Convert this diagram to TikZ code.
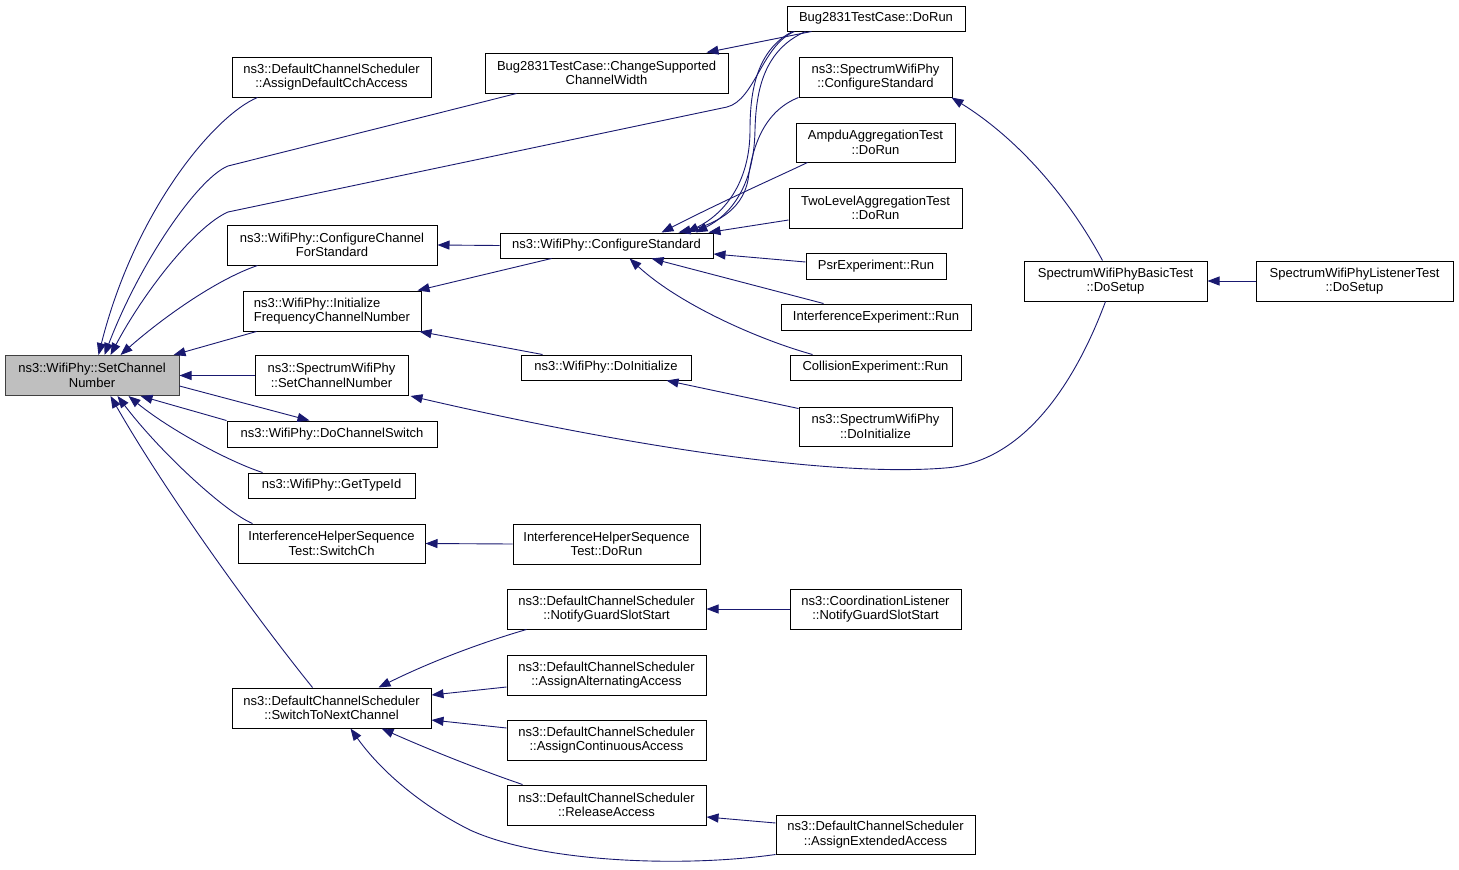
\documentclass[tikz,border=0pt]{standalone}
\usepackage{fontspec}
\setmainfont{Liberation Sans}
\usetikzlibrary{arrows.meta}
\definecolor{edgec}{HTML}{191970}
\definecolor{mainfill}{HTML}{BFBFBF}
\begin{document}
\begin{tikzpicture}[x=1pt,y=-1pt,
  box/.style={draw=black, line width=1pt, inner sep=0pt, align=center,
    font=\fontsize{13}{14.5}\selectfont, text=black},
  edge/.style={draw=edgec, line width=0.9pt, -{Triangle[length=12pt,width=9pt]}},
]
\useasboundingbox[fill=white] (0,0) rectangle (1459,870);

% nodes
\node[box, fill=mainfill, draw=black!75, minimum width=174pt, minimum height=40pt] (main) at (92,375.5) {ns3::WifiPhy::SetChannel\\Number};
\node[box, minimum width=199pt, minimum height=40pt] (cch) at (331.5,77) {ns3::DefaultChannelScheduler\\::AssignDefaultCchAccess};
\node[box, minimum width=243pt, minimum height=40pt] (csw) at (606.5,73) {Bug2831TestCase::ChangeSupported\\ChannelWidth};
\node[box, minimum width=178pt, minimum height=25pt] (bugrun) at (876,18.5) {Bug2831TestCase::DoRun};
\node[box, minimum width=153pt, minimum height=40pt] (scs) at (875.5,77) {ns3::SpectrumWifiPhy\\::ConfigureStandard};
\node[box, minimum width=159pt, minimum height=39pt] (ampdu) at (875.5,142.5) {AmpduAggregationTest\\::DoRun};
\node[box, minimum width=173pt, minimum height=40pt] (twolevel) at (875.5,208) {TwoLevelAggregationTest\\::DoRun};
\node[box, minimum width=140pt, minimum height=26pt] (psr) at (876,266) {PsrExperiment::Run};
\node[box, minimum width=190pt, minimum height=26pt] (interf) at (876,317) {InterferenceExperiment::Run};
\node[box, minimum width=171pt, minimum height=25pt] (collision) at (875.5,367.5) {CollisionExperiment::Run};
\node[box, minimum width=153pt, minimum height=39pt] (sdoinit) at (875.5,426.5) {ns3::SpectrumWifiPhy\\::DoInitialize};
\node[box, minimum width=210pt, minimum height=40pt] (ccfs) at (332,245) {ns3::WifiPhy::ConfigureChannel\\ForStandard};
\node[box, minimum width=213pt, minimum height=25pt] (cstd) at (606.5,245.5) {ns3::WifiPhy::ConfigureStandard};
\node[box, align=left, minimum width=178pt, minimum height=40pt] (ifcn) at (332,311) {ns3::WifiPhy::Initialize\\FrequencyChannelNumber};
\node[box, minimum width=170pt, minimum height=25pt] (doinit) at (606,367.5) {ns3::WifiPhy::DoInitialize};
\node[box, minimum width=153pt, minimum height=40pt] (sscn) at (331.5,375.5) {ns3::SpectrumWifiPhy\\::SetChannelNumber};
\node[box, minimum width=210pt, minimum height=26pt] (dcs) at (332,434) {ns3::WifiPhy::DoChannelSwitch};
\node[box, minimum width=167pt, minimum height=25pt] (gti) at (331.5,485.5) {ns3::WifiPhy::GetTypeId};
\node[box, minimum width=187pt, minimum height=39pt] (swch) at (331.5,543.5) {InterferenceHelperSequence\\Test::SwitchCh};
\node[box, minimum width=187pt, minimum height=40pt] (ihrun) at (606.5,544) {InterferenceHelperSequence\\Test::DoRun};
\node[box, minimum width=183pt, minimum height=40pt] (dosetup) at (1115.5,281) {SpectrumWifiPhyBasicTest\\::DoSetup};
\node[box, minimum width=197pt, minimum height=40pt] (listener) at (1354.5,281) {SpectrumWifiPhyListenerTest\\::DoSetup};
\node[box, minimum width=199pt, minimum height=40pt] (ngss) at (606.5,609) {ns3::DefaultChannelScheduler\\::NotifyGuardSlotStart};
\node[box, minimum width=171pt, minimum height=40pt] (clgs) at (875.5,609) {ns3::CoordinationListener\\::NotifyGuardSlotStart};
\node[box, minimum width=199pt, minimum height=40pt] (aaa) at (606.5,675) {ns3::DefaultChannelScheduler\\::AssignAlternatingAccess};
\node[box, minimum width=199pt, minimum height=40pt] (aca) at (606.5,740) {ns3::DefaultChannelScheduler\\::AssignContinuousAccess};
\node[box, minimum width=199pt, minimum height=40pt] (ra) at (606.5,805) {ns3::DefaultChannelScheduler\\::ReleaseAccess};
\node[box, minimum width=199pt, minimum height=39pt] (aea) at (875.5,834.5) {ns3::DefaultChannelScheduler\\::AssignExtendedAccess};
\node[box, minimum width=199pt, minimum height=40pt] (swnc) at (331.5,708) {ns3::DefaultChannelScheduler\\::SwitchToNextChannel};

% edges into SetChannelNumber
\draw[edge] ([xshift=26pt]cch.south west) .. controls (215,115) and (135,210) .. ([xshift=94pt]main.north west);
\draw[edge] ([xshift=32pt]csw.south west) -- (228,166) .. controls (198,178) and (140,262) .. ([xshift=100pt]main.north west);
\draw[edge] ([xshift=8pt]bugrun.south west) .. controls (762,45) and (755,100) .. (727,107) -- (228,212) .. controls (196,226) and (145,290) .. ([xshift=106pt]main.north west);
\draw[edge] ([xshift=31pt]ccfs.south west) .. controls (215,280) and (160,320) .. ([xshift=116pt]main.north west);
\draw[edge] ([xshift=14pt]ifcn.south west) -- ([xshift=-6pt]main.north east);
\draw[edge] (sscn.west) -- (main.east);
\draw[edge] ([yshift=-10.5pt]main.east) -- ([xshift=83pt]dcs.north west);
\draw[edge] (dcs.north west) -- ([xshift=136pt]main.south west);
\draw[edge] ([xshift=15pt]gti.north west) .. controls (230,462) and (170,430) .. ([xshift=124pt]main.south west);
\draw[edge] ([xshift=15pt]swch.north west) .. controls (225,512) and (160,452) .. ([xshift=113pt]main.south west);
\draw[edge] ([xshift=81pt]swnc.north west) .. controls (262,625) and (170,500) .. ([xshift=106pt]main.south west);

% upper part
\draw[edge] ([xshift=25pt]bugrun.south west) -- ([xshift=222pt]csw.north west);
\draw[edge] (cstd.west) -- (ccfs.east);
\draw[edge] ([xshift=6pt]bugrun.south west) .. controls (757,50) and (750,90) .. (750,130) .. controls (750,185) and (722,215) .. ([xshift=187pt]cstd.north west);
\draw[edge] ([xshift=19pt]bugrun.south west) .. controls (764,50) and (756,90) .. (755,130) .. controls (754,187) and (730,215) .. ([xshift=196pt]cstd.north west);
\draw[edge] (scs.south west) .. controls (762,112) and (752,150) .. (748,180) .. controls (742,212) and (712,225) .. ([xshift=179pt]cstd.north west);
\draw[edge] ([xshift=12pt]ampdu.south west) .. controls (775,178) and (725,200) .. ([xshift=162pt]cstd.north west);
\draw[edge] ([yshift=-12pt]twolevel.west) -- ([xshift=-5pt]cstd.north east);
\draw[edge] ([yshift=4pt]psr.west) -- ([yshift=-8.5pt]cstd.east);
\draw[edge] ([xshift=43pt]interf.north west) -- ([xshift=152pt]cstd.south west);
\draw[edge] ([xshift=23pt]collision.north west) .. controls (760,340) and (680,305) .. ([xshift=130pt]cstd.south west);
\draw[edge] ([xshift=52pt]cstd.south west) -- ([xshift=-4pt]ifcn.north east);
\draw[edge] ([xshift=22pt]doinit.north west) -- ([xshift=-2pt]ifcn.south east);
\draw[edge] ([yshift=-2pt]sdoinit.north west) -- ([xshift=146pt]doinit.south west);
\draw[edge] ([xshift=79pt]dosetup.north west) .. controls (1070,200) and (1020,140) .. ([xshift=-1pt]scs.south east);
\draw[edge] ([xshift=82pt]dosetup.south west) .. controls (1080,370) and (1030,462) .. (945,468) .. controls (820,478) and (600,440) .. ([xshift=2pt]sscn.south east);
\draw[edge] (listener.west) -- (dosetup.east);
\draw[edge] (ihrun.west) -- (swch.east);

% lower part
\draw[edge] (clgs.west) -- (ngss.east);
\draw[edge] ([xshift=20pt]ngss.south west) .. controls (480,643) and (430,662) .. ([xshift=147pt]swnc.north west);
\draw[edge] ([yshift=-12pt]aaa.west) -- ([yshift=13pt]swnc.east);
\draw[edge] ([yshift=12pt]aca.west) -- ([yshift=-12pt]swnc.east);
\draw[edge] ([xshift=16pt]ra.north west) .. controls (480,770) and (430,750) .. ([xshift=150pt]swnc.south west);
\draw[edge] ([yshift=11.5pt]aea.west) -- ([yshift=-12pt]ra.east);
\draw[edge] (aea.south west) .. controls (680,868) and (540,862) .. (470,830) .. controls (420,805) and (380,770) .. ([xshift=119pt]swnc.south west);
\end{tikzpicture}
\end{document}
